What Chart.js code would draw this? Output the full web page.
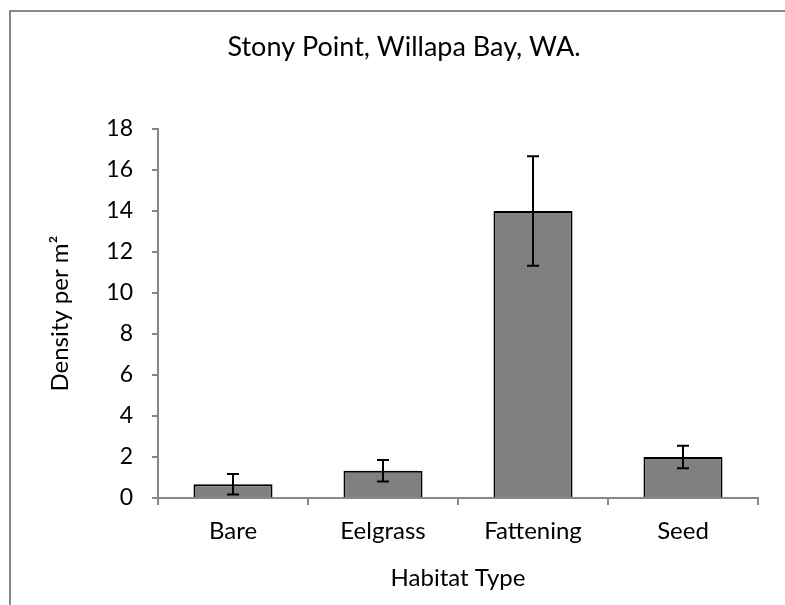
<!DOCTYPE html>
<html>
<head>
<meta charset="utf-8">
<script src="https://cdn.jsdelivr.net/npm/chart.js@4.4.1/dist/chart.umd.min.js"></script>
<style>
  html, body { margin: 0; padding: 0; background: #fff; overflow: hidden; }
  #wrap { position: relative; width: 785px; height: 605px; }
  #frame {
    position: absolute; left: 9px; top: 10px; width: 900px; height: 700px;
    border-left: 2px solid #888; border-top: 2px solid #888;
  }
  canvas { position: absolute; left: 0; top: 0; }
</style>
</head>
<body>
<div id="wrap">
  <div id="frame"></div>
  <canvas id="chart" width="785" height="605"></canvas>
</div>
<script>
// Habitat categories and mean densities (per m²) with their standard errors
const habitats = ['Bare', 'Eelgrass', 'Fattening', 'Seed'];
const density = [0.67, 1.33, 14.0, 2.0];
const stdError = [0.5, 0.52, 2.67, 0.55];
const yTicks = [0, 2, 4, 6, 8, 10, 12, 14, 16, 18];

const FONT = 'Lato, "Open Sans", sans-serif';

// Draws vertical error bars with caps on top of each bar
const errorBars = {
  id: 'errorBars',
  afterDatasetsDraw(chart) {
    const { ctx, scales: { x, y } } = chart;
    ctx.save();
    ctx.strokeStyle = '#000';
    ctx.lineWidth = 2;
    const cap = 6;
    density.forEach((v, i) => {
      const cx = x.getPixelForValue(i);
      const top = y.getPixelForValue(v + stdError[i]);
      const bot = y.getPixelForValue(v - stdError[i]);
      ctx.beginPath();
      ctx.moveTo(cx, top); ctx.lineTo(cx, bot);
      ctx.moveTo(cx - cap, top); ctx.lineTo(cx + cap, top);
      ctx.moveTo(cx - cap, bot); ctx.lineTo(cx + cap, bot);
      ctx.stroke();
    });
    ctx.restore();
  }
};

new Chart(document.getElementById('chart'), {
  type: 'bar',
  data: {
    labels: habitats,
    datasets: [{
      data: density,
      backgroundColor: '#808080',
      borderColor: '#000',
      borderWidth: 2,
      categoryPercentage: 1,
      barPercentage: 0.527
    }]
  },
  options: {
    responsive: false,
    animation: false,
    layout: { padding: { left: 23, right: 0, top: 0, bottom: 12 } },
    plugins: {
      legend: { display: false },
      tooltip: { enabled: false },
      title: {
        display: true,
        text: 'Stony Point, Willapa Bay, WA.',
        color: '#000',
        font: { family: FONT, size: 27, weight: 'normal', lineHeight: 1.2 },
        padding: { top: 31, bottom: 65.6 }
      }
    },
    scales: {
      x: {
        grid: { display: true, drawOnChartArea: false, offset: true, color: '#888', lineWidth: 2, tickLength: 7 },
        border: { display: true, color: '#888', width: 2 },
        ticks: { color: '#000', font: { family: FONT, size: 24 }, padding: 12, maxRotation: 0 },
        title: {
          display: true, text: 'Habitat Type', color: '#000',
          font: { family: FONT, size: 24, lineHeight: 1.2 }, padding: { top: 0, bottom: 0 }
        },
        afterFit(s) { s.height = 95; }
      },
      y: {
        min: 0, max: 18,
        afterBuildTicks(s) { s.ticks = yTicks.map(v => ({ value: v })); },
        grid: { display: true, drawOnChartArea: false, color: '#888', lineWidth: 2, tickLength: 6 },
        border: { display: true, color: '#888', width: 2 },
        ticks: { color: '#000', font: { family: FONT, size: 23 }, padding: 19 },
        title: {
          display: true, text: 'Density per m²', color: '#000',
          font: { family: FONT, size: 24, lineHeight: 1.2 }, padding: { top: 22.6, bottom: 0 }
        },
        afterFit(s) { s.width = 135; }
      },
      // empty spacer on the right edge of the plot
      yRight: {
        type: 'linear', position: 'right', display: true,
        grid: { display: false }, border: { display: false }, ticks: { display: false },
        afterFit(s) { s.width = 27; }
      }
    }
  },
  plugins: [errorBars]
});
</script>
</body>
</html>
